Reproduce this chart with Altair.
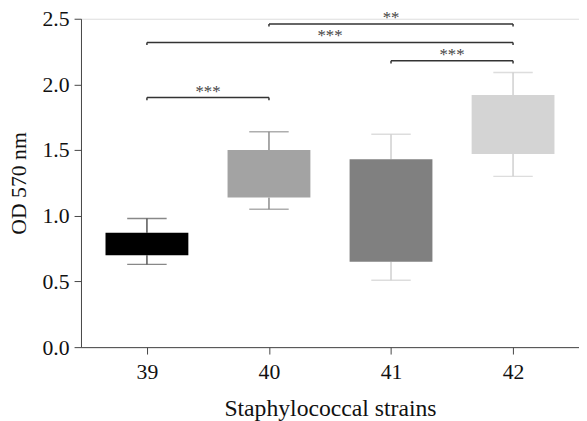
import altair as alt
import pandas as pd

strains = [39, 40, 41, 42]
q1 = [0.70, 1.14, 0.65, 1.47]
q3 = [0.87, 1.50, 1.43, 1.92]
lo = [0.63, 1.05, 0.51, 1.30]
hi = [0.98, 1.64, 1.62, 2.09]
box_colors = ["#000000", "#a3a3a3", "#808080", "#d4d4d4"]
whisker_colors = ["#555555", "#8c8c8c", "#cfcfcf", "#cfcfcf"]

br_from = [39, 39, 40, 41]
br_to = [40, 42, 42, 42]
br_y = [1.90, 2.32, 2.46, 2.18]
br_label = ["***", "***", "**", "***"]

df = pd.DataFrame({"strain": strains, "q1": q1, "q3": q3, "lo": lo, "hi": hi,
                   "bc": box_colors, "wc": whisker_colors})
rows = []
for a, b, y, l in zip(br_from, br_to, br_y, br_label):
    rows.append({"a": a, "b": b, "y": y, "label": l, "mid": (a + b) / 2})
br = pd.DataFrame(rows)

FONT = "Liberation Serif"
xscale = alt.Scale(domain=[38.5, 42.5], nice=False, zero=False)
yscale = alt.Scale(domain=[0, 2.5], nice=False)

base = alt.Chart(df)
x = alt.X("strain:Q", scale=xscale,
          axis=alt.Axis(values=strains, title="Staphylococcal strains", format="d",
                        grid=False, labelFontSize=22, titleFontSize=24,
                        labelPadding=8, titlePadding=14, tickSize=7,
                        domainColor="#444", tickColor="#444", labelColor="#111",
                        titleColor="#111", titleFontWeight="normal", labelFont=FONT, titleFont=FONT))
y_axis = alt.Axis(values=[0, 0.5, 1.0, 1.5, 2.0, 2.5], format=".1f", title="OD 570 nm",
                  grid=False, labelFontSize=22, titleFontSize=22, tickSize=7,
                  labelPadding=5, titlePadding=12,
                  domainColor="#444", tickColor="#444", labelColor="#111", titleColor="#111",
                  titleFontWeight="normal", labelFont=FONT, titleFont=FONT)

whisk_lo = base.mark_rule(strokeWidth=1.5).encode(
    x=x, y=alt.Y("lo:Q", scale=yscale, axis=y_axis), y2="q1:Q",
    color=alt.Color("wc:N", scale=None))
whisk_hi = base.mark_rule(strokeWidth=1.5).encode(
    x="strain:Q", y="q3:Q", y2="hi:Q", color=alt.Color("wc:N", scale=None))
cap_lo = base.mark_tick(orient="horizontal", size=40, thickness=1.5).encode(
    x="strain:Q", y="lo:Q", color=alt.Color("wc:N", scale=None))
cap_hi = base.mark_tick(orient="horizontal", size=40, thickness=1.5).encode(
    x="strain:Q", y="hi:Q", color=alt.Color("wc:N", scale=None))
boxes = base.mark_bar(size=84).encode(
    x="strain:Q", y="q1:Q", y2="q3:Q", color=alt.Color("bc:N", scale=None))

bb = alt.Chart(br)
hline = bb.mark_rule(color="#333", strokeWidth=1.5).encode(x="a:Q", x2="b:Q", y="y:Q")
lend = bb.transform_calculate(y2="datum.y - 0.02").mark_rule(color="#333", strokeWidth=1.5).encode(
    x="a:Q", y="y:Q", y2="y2:Q")
rend = bb.transform_calculate(y2="datum.y - 0.02").mark_rule(color="#333", strokeWidth=1.5).encode(
    x="b:Q", y="y:Q", y2="y2:Q")
stars = bb.mark_text(font=FONT, fontSize=17, color="#444", baseline="alphabetic", dy=-1).encode(
    x="mid:Q", y="y:Q", text="label:N")

chart = alt.layer(whisk_lo, whisk_hi, cap_lo, cap_hi, boxes, hline, lend, rend, stars).properties(
    width=505, height=333,
    autosize=alt.AutoSizeParams(type="none"),
    padding={"left": 74, "top": 8, "right": 0, "bottom": 72},
).configure_view(stroke=None).configure(background="white")

chart.save("out.html", embed_options={"renderer": "svg", "actions": False})
